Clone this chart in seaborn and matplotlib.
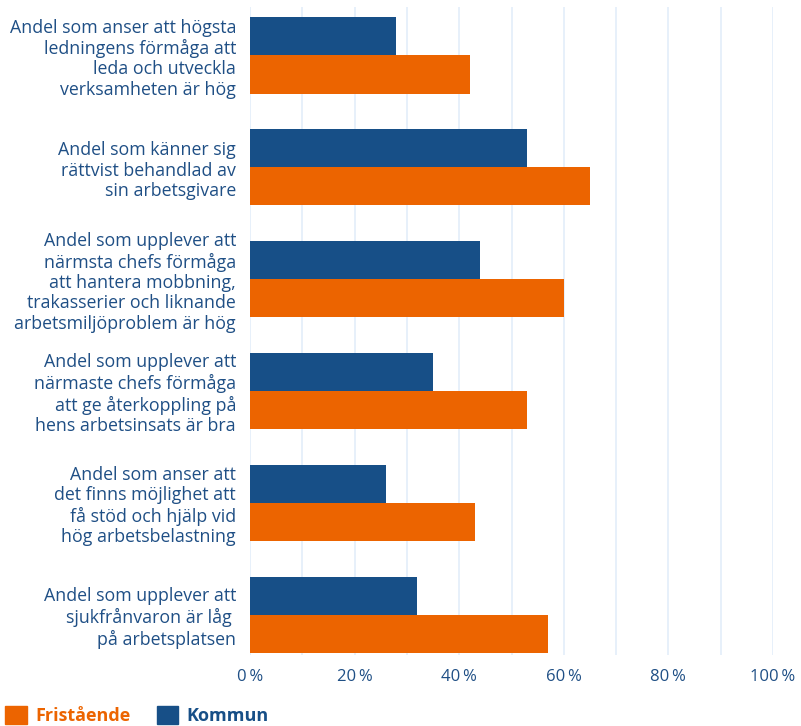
import numpy as np
import pandas as pd
import seaborn as sns
import matplotlib.pyplot as plt
from matplotlib.patches import Patch
from matplotlib.ticker import MultipleLocator, FuncFormatter

questions = [
    "Andel som anser att högsta\nledningens förmåga att\nleda och utveckla\nverksamheten är hög",
    "Andel som känner sig\nrättvist behandlad av\nsin arbetsgivare",
    "Andel som upplever att\nnärmsta chefs förmåga\natt hantera mobbning,\ntrakasserier och liknande\narbetsmiljöproblem är hög",
    "Andel som upplever att\nnärmaste chefs förmåga\natt ge återkoppling på\nhens arbetsinsats är bra",
    "Andel som anser att\ndet finns möjlighet att\nfå stöd och hjälp vid\nhög arbetsbelastning",
    "Andel som upplever att\nsjukfrånvaron är låg \npå arbetsplatsen",
]
kommun = [28, 53, 44, 35, 26, 32]
fristaende = [42, 65, 60, 53, 43, 57]

blue = '#174f87'
orange = '#ec6400'
text_col = '#1f4f85'

sns.set_style('white')
plt.rcParams['font.family'] = ['Open Sans', 'DejaVu Sans']

df = pd.DataFrame({
    'fraga': questions * 2,
    'grupp': ['Kommun'] * 6 + ['Fristående'] * 6,
    'andel': kommun + fristaende,
})

fig = plt.figure(figsize=(8.01, 7.26), dpi=100)
ax = fig.add_axes([0.3121, 0.0978, 0.653, 0.892])

sns.barplot(data=df, y='fraga', x='andel', hue='grupp', hue_order=['Kommun', 'Fristående'],
            palette={'Kommun': blue, 'Fristående': orange}, orient='h', width=0.68,
            saturation=1, linewidth=0, ax=ax, legend=False)

ax.set_xlim(0, 100)
ax.set_ylim(5.36, -0.43)
ax.xaxis.set_major_locator(MultipleLocator(20))
ax.xaxis.set_minor_locator(MultipleLocator(10))
ax.xaxis.set_major_formatter(FuncFormatter(lambda v, p: f"{int(v)}\u2009%"))
ax.grid(True, axis='x', which='both', color='#e3eef9', linewidth=1.2)
ax.set_axisbelow(True)
for s in ax.spines.values():
    s.set_visible(False)
ax.set_xlabel('')
ax.set_ylabel('')
ax.tick_params(axis='x', which='both', length=0, labelsize=12, labelcolor=text_col, pad=10)
ax.tick_params(axis='y', length=0, pad=10)
for lab in ax.get_yticklabels():
    lab.set_fontsize(12.8)
    lab.set_color(text_col)
    lab.set_horizontalalignment('right')
    lab.set_multialignment('right')
    lab.set_linespacing(1.17)

handles = [Patch(color=orange), Patch(color=blue)]
leg = fig.legend(handles, ['Fristående', 'Kommun'], loc='lower left', bbox_to_anchor=(0.0, -0.006),
                 ncol=2, frameon=False, handlelength=1.2, handleheight=1.2, handletextpad=0.45,
                 columnspacing=1.45, borderaxespad=0.0, borderpad=0.3, prop={'weight': 'bold', 'size': 13})
for t, c in zip(leg.get_texts(), [orange, blue]):
    t.set_color(c)

fig.savefig('out.png', dpi=100)
